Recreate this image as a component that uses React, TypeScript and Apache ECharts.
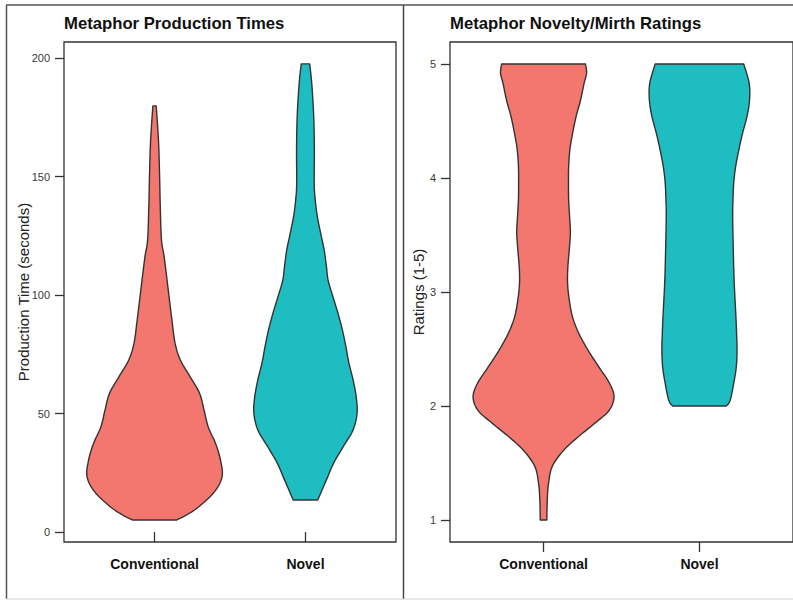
import React, { useEffect, useRef } from "react";
import * as echarts from "echarts";

const categories = ["Conventional", "Novel"];
const timeTicks = [0, 50, 100, 150, 200];
const ratingTicks = [1, 2, 3, 4, 5];

// Production time violins: value (seconds) and half-width (x-axis units)
const convTimeValues = [5.1, 9.3, 16.5, 23.2, 30.4, 37.6, 44.3, 51.5, 58.6, 65.4, 72.6, 79.7, 89.5, 102.1, 116, 123.2, 137.1, 151.5, 165.4, 179.8];
const convTimeWidths = [0.148, 0.265, 0.391, 0.447, 0.437, 0.403, 0.356, 0.328, 0.298, 0.237, 0.171, 0.136, 0.115, 0.091, 0.064, 0.046, 0.038, 0.033, 0.026, 0.011];
const novelTimeValues = [13.5, 21.9, 29.1, 36, 43, 50.2, 57.1, 64.1, 71.3, 78.2, 85.2, 92.4, 99.3, 106.3, 112, 119, 126, 133, 140, 147, 161, 175, 189, 197.5];
const novelTimeWidths = [0.081, 0.138, 0.187, 0.25, 0.315, 0.342, 0.336, 0.316, 0.288, 0.268, 0.245, 0.215, 0.182, 0.15, 0.139, 0.124, 0.101, 0.079, 0.065, 0.058, 0.059, 0.055, 0.042, 0.028];

// Rating violins
const convRatingValues = [1.0, 1.18, 1.32, 1.47, 1.61, 1.73, 1.85, 1.96, 2.08, 2.2, 2.34, 2.49, 2.64, 2.78, 2.93, 3.08, 3.22, 3.37, 3.52, 3.66, 3.81, 3.96, 4.1, 4.25, 4.39, 4.54, 4.68, 4.83, 4.92, 5.0];
const convRatingWidths = [0.021, 0.024, 0.032, 0.056, 0.128, 0.223, 0.33, 0.42, 0.452, 0.423, 0.356, 0.285, 0.225, 0.186, 0.165, 0.154, 0.156, 0.165, 0.172, 0.167, 0.161, 0.16, 0.161, 0.169, 0.186, 0.209, 0.237, 0.26, 0.276, 0.269];
const novelRatingValues = [2.0, 2.05, 2.2, 2.34, 2.49, 2.64, 2.78, 3.08, 3.37, 3.66, 3.81, 3.96, 4.1, 4.25, 4.39, 4.54, 4.68, 4.83, 5.0];
const novelRatingWidths = [0.172, 0.197, 0.22, 0.236, 0.241, 0.238, 0.234, 0.223, 0.217, 0.213, 0.215, 0.22, 0.232, 0.253, 0.276, 0.305, 0.321, 0.319, 0.284];

const RED = "#F3766F";
const TEAL = "#1EBDC1";
const INK = "#333333";
const FONT = "'Liberation Sans', Arial, sans-serif";

function catmull(pts: number[][], steps: number): number[][] {
  const out: number[][] = [];
  const n = pts.length;
  for (let i = 0; i < n - 1; i++) {
    const p0 = pts[Math.max(0, i - 1)];
    const p1 = pts[i];
    const p2 = pts[i + 1];
    const p3 = pts[Math.min(n - 1, i + 2)];
    for (let s = 0; s < steps; s++) {
      const t = s / steps;
      const t2 = t * t;
      const t3 = t2 * t;
      const f = (a: number, b: number, c: number, d: number) =>
        0.5 * (2 * b + (-a + c) * t + (2 * a - 5 * b + 4 * c - d) * t2 + (-a + 3 * b - 3 * c + d) * t3);
      out.push([f(p0[0], p1[0], p2[0], p3[0]), f(p0[1], p1[1], p2[1], p3[1])]);
    }
  }
  out.push(pts[n - 1]);
  return out;
}

function violinSeries(center: number, values: number[], widths: number[], color: string, axis: number) {
  return {
    type: "custom",
    xAxisIndex: axis,
    yAxisIndex: axis,
    data: [[center, values[0]]],
    clip: false,
    renderItem: (_params: any, api: any) => {
      const c = api.value(0);
      const right = values.map((v, i) => api.coord([c + widths[i], v]));
      const left = values.map((v, i) => api.coord([c - widths[i], v])).reverse();
      const pts = catmull(right, 8).concat(catmull(left, 8));
      return {
        type: "polygon",
        shape: { points: pts },
        style: { fill: color, stroke: INK, lineWidth: 1.4, lineJoin: "round" },
      };
    },
  };
}

function xAxisFor(gridIndex: number) {
  return {
    type: "value",
    gridIndex,
    min: 0.4,
    max: 2.6,
    splitLine: { show: false },
    axisLine: { show: false },
    axisTick: { show: true, customValues: [1, 2], length: 10, lineStyle: { color: INK, width: 1.3 } },
    axisLabel: {
      customValues: [1, 2],
      formatter: (v: number) => categories[Math.round(v) - 1] ?? "",
      margin: 15,
      fontFamily: FONT,
      fontSize: 14,
      fontWeight: "bold",
      color: "#111",
    },
  };
}

function yAxisFor(gridIndex: number, min: number, max: number, ticks: number[]) {
  return {
    type: "value",
    gridIndex,
    min,
    max,
    splitLine: { show: false },
    axisLine: { show: false },
    axisTick: { show: true, customValues: ticks, length: 9, lineStyle: { color: INK, width: 1.3 } },
    axisLabel: {
      customValues: ticks,
      margin: 14,
      fontFamily: FONT,
      fontSize: 11,
      color: "#3a3a3a",
    },
  };
}

export default function App() {
  const ref = useRef<HTMLDivElement>(null);
  useEffect(() => {
    if (!ref.current) return;
    const chart = echarts.init(ref.current, undefined, { renderer: "svg" });
    chart.setOption({
      animation: false,
      backgroundColor: "#ffffff",
      grid: [
        { left: 64, top: 42, width: 332, height: 500, show: true, borderColor: INK, borderWidth: 1.3, backgroundColor: "transparent" },
        { left: 450, top: 42, width: 345, height: 500, show: true, borderColor: INK, borderWidth: 1.3, backgroundColor: "transparent" },
      ],
      xAxis: [xAxisFor(0), xAxisFor(1)],
      yAxis: [yAxisFor(0, -4.2, 206.75, timeTicks), yAxisFor(1, 0.807, 5.193, ratingTicks)],
      series: [
        violinSeries(1, convTimeValues, convTimeWidths, RED, 0),
        violinSeries(2, novelTimeValues, novelTimeWidths, TEAL, 0),
        violinSeries(1, convRatingValues, convRatingWidths, RED, 1),
        violinSeries(2, novelRatingValues, novelRatingWidths, TEAL, 1),
      ],
      graphic: [
        { type: "line", shape: { x1: 6, y1: 5, x2: 800, y2: 5 }, style: { stroke: "#555", lineWidth: 1.5 } },
        { type: "line", shape: { x1: 6.5, y1: 5, x2: 6.5, y2: 599 }, style: { stroke: "#555", lineWidth: 1.5 } },
        { type: "line", shape: { x1: 403.5, y1: 5, x2: 403.5, y2: 599 }, style: { stroke: "#444", lineWidth: 1.5 } },
        { type: "line", shape: { x1: 6, y1: 599, x2: 800, y2: 599 }, style: { stroke: "#cfcfcf", lineWidth: 1.2 } },
        {
          type: "text",
          x: 64,
          y: 23,
          style: { text: "Metaphor Production Times", fontFamily: FONT, fontSize: 16.7, fontWeight: "bold", fill: "#111", textAlign: "left", textVerticalAlign: "middle" },
        },
        {
          type: "text",
          x: 450,
          y: 23,
          style: { text: "Metaphor Novelty/Mirth Ratings", fontFamily: FONT, fontSize: 16.7, fontWeight: "bold", fill: "#111", textAlign: "left", textVerticalAlign: "middle" },
        },
        {
          type: "text",
          x: 23,
          y: 292,
          rotation: Math.PI / 2,
          style: { text: "Production Time (seconds)", fontFamily: FONT, fontSize: 15, fill: "#222", textAlign: "center", textVerticalAlign: "middle" },
        },
        {
          type: "text",
          x: 418,
          y: 292,
          rotation: Math.PI / 2,
          style: { text: "Ratings (1-5)", fontFamily: FONT, fontSize: 15, fill: "#222", textAlign: "center", textVerticalAlign: "middle" },
        },
      ],
    });
    return () => chart.dispose();
  }, []);
  return <div ref={ref} style={{ position: "absolute", left: 0, top: 0, width: 793, height: 601 }} />;
}
